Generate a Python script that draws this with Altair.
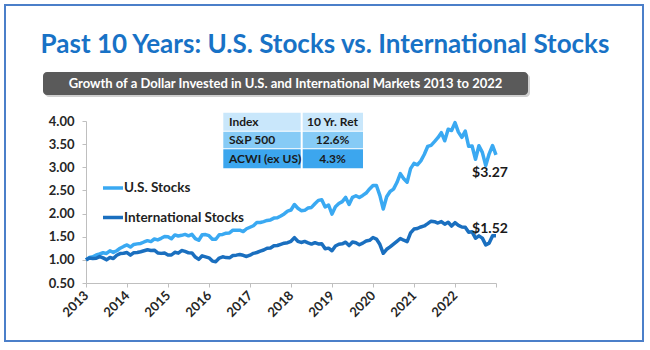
import altair as alt
import pandas as pd

# ---------------- data ----------------
years = list(range(2013, 2024))
series_names = ["U.S. Stocks", "International Stocks"]
series_colors = ["#3aa9f2", "#1a6fbf"]

# month-end growth of $1 (Dec 2012 = 1.00 ... Dec 2022)
us_values = [1.000,
    1.052, 1.067, 1.106, 1.127, 1.153, 1.138, 1.196, 1.161, 1.197, 1.252, 1.290, 1.322,
    1.276, 1.334, 1.345, 1.355, 1.386, 1.415, 1.395, 1.451, 1.431, 1.465, 1.505, 1.501,
    1.456, 1.539, 1.515, 1.530, 1.550, 1.520, 1.552, 1.459, 1.423, 1.542, 1.547, 1.522,
    1.446, 1.444, 1.543, 1.549, 1.577, 1.581, 1.640, 1.641, 1.641, 1.612, 1.672, 1.705,
    1.737, 1.806, 1.808, 1.827, 1.852, 1.863, 1.902, 1.908, 1.948, 1.993, 2.054, 2.077,
    2.196, 2.115, 2.062, 2.070, 2.120, 2.133, 2.212, 2.285, 2.298, 2.142, 2.185, 1.988,
    2.147, 2.216, 2.258, 2.348, 2.198, 2.352, 2.385, 2.347, 2.392, 2.444, 2.532, 2.608,
    2.607, 2.393, 2.097, 2.365, 2.478, 2.528, 2.670, 2.862, 2.753, 2.679, 2.971, 3.084,
    3.053, 3.138, 3.276, 3.450, 3.474, 3.554, 3.639, 3.748, 3.572, 3.822, 3.795, 3.966,
    3.760, 3.647, 3.782, 3.453, 3.460, 3.173, 3.465, 3.323, 3.040, 3.290, 3.470, 3.270]

intl_values = [1.000,
    1.042, 1.028, 1.034, 1.071, 1.043, 1.000, 1.051, 1.029, 1.099, 1.135, 1.142, 1.158,
    1.100, 1.156, 1.160, 1.176, 1.197, 1.218, 1.202, 1.209, 1.150, 1.140, 1.147, 1.105,
    1.105, 1.164, 1.145, 1.201, 1.183, 1.152, 1.149, 1.060, 1.011, 1.087, 1.065, 1.044,
    0.973, 0.961, 1.039, 1.066, 1.049, 1.044, 1.095, 1.102, 1.115, 1.098, 1.073, 1.101,
    1.141, 1.159, 1.188, 1.213, 1.252, 1.256, 1.303, 1.310, 1.335, 1.360, 1.371, 1.401,
    1.480, 1.401, 1.376, 1.398, 1.366, 1.340, 1.372, 1.343, 1.350, 1.241, 1.253, 1.197,
    1.300, 1.338, 1.346, 1.382, 1.308, 1.386, 1.369, 1.327, 1.362, 1.409, 1.422, 1.483,
    1.450, 1.336, 1.142, 1.229, 1.282, 1.341, 1.400, 1.461, 1.424, 1.393, 1.581, 1.666,
    1.678, 1.711, 1.733, 1.783, 1.836, 1.825, 1.796, 1.828, 1.771, 1.813, 1.731, 1.803,
    1.744, 1.709, 1.703, 1.595, 1.606, 1.468, 1.518, 1.470, 1.323, 1.362, 1.522, 1.520]

y_ticks = [0.5, 1.0, 1.5, 2.0, 2.5, 3.0, 3.5, 4.0]
end_labels = ["$3.27", "$1.52"]
table_header = ["Index", "10 Yr. Ret"]
table_index = ["S&P 500", "ACWI (ex US)"]
table_returns = ["12.6%", "4.3%"]
table_colors = ["#c9e7fb", "#86cbf6", "#3ca6ee"]
title_text = "Past 10 Years: U.S. Stocks vs. International Stocks"
subtitle_text = "Growth of a Dollar Invested in U.S. and International Markets 2013 to 2022"

FONT = "Lato"
n = len(us_values)
t = [2013 + i / 12 for i in range(n)]
df = pd.DataFrame({
    "t": t + t,
    "value": us_values + intl_values,
    "series": [series_names[0]] * n + [series_names[1]] * n,
})

one = pd.DataFrame({"a": [0]})


def box(x, x2, y, y2, **kw):
    return alt.Chart(one).mark_rect(**kw).encode(
        x=alt.value(x), x2=alt.value(x2), y=alt.value(y), y2=alt.value(y2))


def label(text, x, y, **kw):
    return alt.Chart(one).mark_text(text=text, font=FONT, **kw).encode(
        x=alt.value(x), y=alt.value(y))


layers = []
# outer frame
layers.append(box(-81, 557, -116, 220, fill="white", fillOpacity=0,
                  stroke="#4b7fc9", strokeWidth=2))
# title
layers.append(label(title_text, 239, -68, fontSize=26, fontWeight="bold",
                    color="#1872c6", align="center", baseline="alphabetic"))
# subtitle box with shadow
layers.append(box(-41, 444, -47, -24, fill="#d0d0d0", cornerRadius=4))
layers.append(box(-43, 442, -49, -26, fill="#5a5a5a", cornerRadius=4))
layers.append(label(subtitle_text, 199.5, -37.5, fontSize=13, fontWeight="bold",
                    color="white", align="center", baseline="middle"))

# lines
lines = alt.Chart(df).mark_line(strokeWidth=3.5, strokeJoin="round").encode(
    x=alt.X("t:Q", scale=alt.Scale(domain=[2013, 2023], nice=False),
            axis=alt.Axis(values=years, format="d", labelAngle=-45,
                          labelAlign="right", labelBaseline="middle",
                          labelExpr="datum.value == 2023 ? '' : '' + datum.value",
                          title=None)),
    y=alt.Y("value:Q", scale=alt.Scale(domain=[0.5, 4.0], nice=False),
            axis=alt.Axis(values=y_ticks, format=".2f", title=None)),
    color=alt.Color("series:N", scale=alt.Scale(domain=series_names, range=series_colors),
                    legend=None),
    order="t:Q",
)
layers.append(lines)

# inline legend
for i, name in enumerate(series_names):
    yy = 67 + i * 29.5
    layers.append(alt.Chart(one).mark_rule(strokeWidth=3.5, color=series_colors[i]).encode(
        x=alt.value(17), x2=alt.value(37), y=alt.value(yy)))
    layers.append(label(name, 38, yy, fontSize=13.5, fontWeight="bold", color="#1f1f1f",
                        align="left", baseline="middle"))

# table
rows = [table_header] + [[a, b] for a, b in zip(table_index, table_returns)]
row_top = [-8.3, 10.7, 28.3]
row_bot = [9.7, 27.3, 47.3]
for r, row in enumerate(rows):
    layers.append(box(137.3, 214.7, row_top[r], row_bot[r], fill=table_colors[r]))
    layers.append(box(216.7, 277, row_top[r], row_bot[r], fill=table_colors[r]))
    cy = (row_top[r] + row_bot[r]) / 2
    layers.append(label(row[0], 143, cy, fontSize=12, fontWeight="bold", color="#1a1a1a",
                        align="left", baseline="middle"))
    layers.append(label(row[1], 246.5, cy, fontSize=12, fontWeight="bold", color="#1a1a1a",
                        align="center", baseline="middle"))

# end value labels
layers.append(label(end_labels[0], 404, 52, fontSize=14, fontWeight="bold",
                    color="#1a1a1a", align="center", baseline="middle"))
layers.append(label(end_labels[1], 404, 107.5, fontSize=14, fontWeight="bold",
                    color="#1a1a1a", align="center", baseline="middle"))

chart = alt.layer(*layers).properties(
    width=410, height=162,
    padding={"left": 86, "top": 121, "right": 154, "bottom": 67},
    autosize=alt.AutoSizeParams(type="none"),
    background="white",
).configure_view(stroke=None).configure_axis(
    grid=False, domainColor="#bfbfbf", tickColor="#bfbfbf", tickSize=4,
    labelFont=FONT, labelFontWeight="bold", labelFontSize=13, labelColor="#262626",
    labelPadding=6,
).configure_axisY(labelPadding=8)

chart.save("out.html", embed_options={"renderer": "svg", "actions": False})
